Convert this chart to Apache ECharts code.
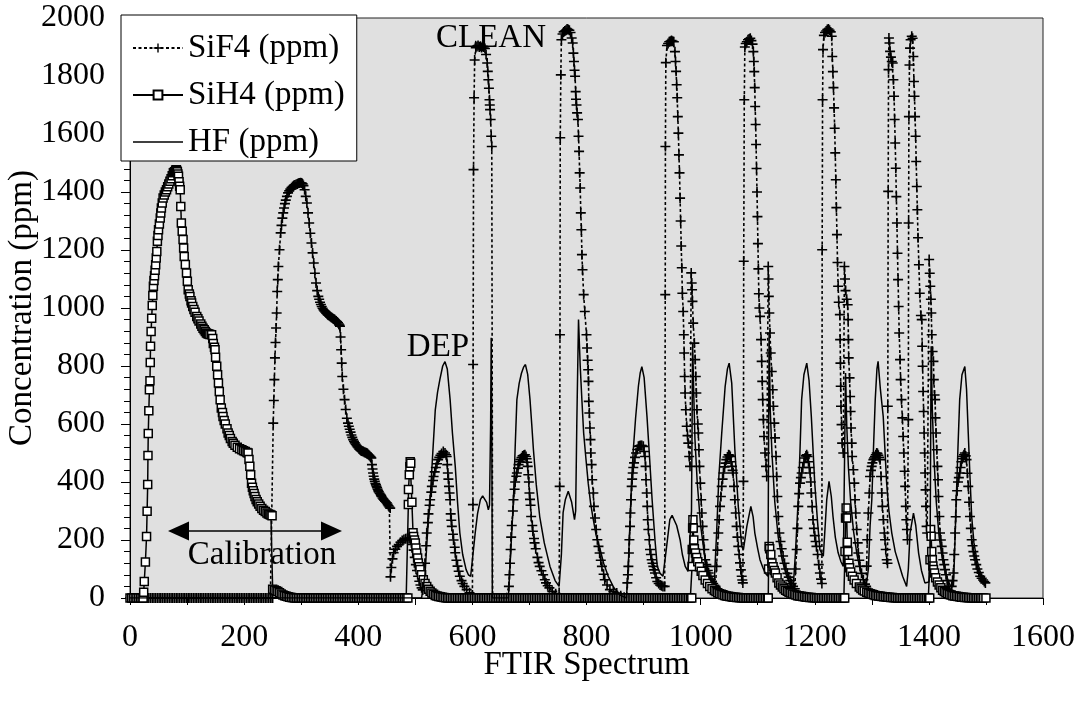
<!DOCTYPE html>
<html>
<head>
<meta charset="utf-8">
<script src="https://cdn.jsdelivr.net/npm/echarts/dist/echarts.min.js"></script>
<style>
html,body{margin:0;padding:0;background:#fff;}
#chart{width:1084px;height:708px;}
</style>
</head>
<body>
<div id="chart"></div>
<script>
// ---- tick labels / names ----
const xTicks = [0,200,400,600,800,1000,1200,1400,1600];
const yTicks = [0,200,400,600,800,1000,1200,1400,1600,1800,2000];
const seriesNames = ['SiF4 (ppm)','SiH4 (ppm)','HF (ppm)'];

// ---- SiF4 (ppm): [FTIR spectrum, ppm] ----
const sif4 = [
[0,0],[3,0],[6,0],[9,0],[12,0],[15,0],[18,0],[21,0],[24,0],[27,0],[30,0],[33,0],[36,0],[39,0],[42,0],[45,0],[48,0],[51,0],[54,0],[57,0],[60,0],[63,0],[66,0],[69,0],[72,0],[75,0],[78,0],[81,0],[84,0],[87,0],[90,0],[93,0],[96,0],[99,0],[102,0],[105,0],[108,0],[111,0],[114,0],[117,0],[120,0],[123,0],[126,0],[129,0],[132,0],[135,0],[138,0],[141,0],[144,0],[147,0],[150,0],[153,0],[156,0],[159,0],[162,0],[165,0],[168,0],[171,0],[174,0],[177,0],[180,0],[183,0],[186,0],[189,0],[192,0],[195,0],[198,0],[201,0],[204,0],[207,0],[210,0],[213,0],[216,0],[219,0],[222,0],[225,0],[228,0],[231,0],[234,0],[237,0],[240,0],[243,0],[246,0],[249,0],[250,0],
[251,603],[252,681],[253,753],[254,828],[255,881],[256,931],[257,983],[258,1057],[259,1098],[260,1143],[262,1201],[264,1259],[265.5,1285],[267,1310],[268.5,1328],[270,1345],[271.5,1360],[273,1372],[275,1385],[277,1397],[279,1404],[281,1410],[283,1415],[285,1419],[287,1422],[289,1424],[291,1426],[293,1428],[295,1430],[297,1431],[299,1432],[301,1431],[302.5,1428],[304,1422],[306,1408],[308,1385],[310,1362],[312,1328],[314,1293],[316,1258],[318,1224],[320,1190],[322,1155],[324,1120],[326,1086],[328,1060],[330,1040],[331.5,1030],[333,1020],[334.5,1012],[336,1005],[337.5,999],[339,994],[340.5,990],[342,986],[343.5,983],[345,980],[346.5,977],[348,975],[349.5,973],[351,971],[352.5,968],[354,966],[355.5,964],[357,962],[358.5,960],[360,957],[361.5,955],[363,952],[364.5,949],[366,945],[367,941],[368,937],[369,900],[370,856],[371,810],[372,764],[374,720],[376,684],[378,650],[380,620],[382,603],[383.5,592],[385,582],[386.5,572],[388,562],[389.5,554],[391,546],[392.5,540],[394,535],[395.5,530],[397,526],[398.5,522],[400,518],[401.5,514],[403,511],[404.5,509],[406,507],[407.5,506],[409,505],[410.5,503],[412,502],[413.5,501],[415,500],[416.5,497],[418,494],[419.5,491],[421,488],[422,485],[423,483],[424,460],[425,445],[426,431],[427,420],[428,410],[429,402],[430,395],[431,390],[432,385],[433,380],[434,375],[435,370],[436,366],[437.5,361],[439,357],[440,353],[441,350],[442.5,345],[444,341],[445.5,337],[447,334],[448.5,331],[450,328],[451.5,323],[453,318],[454.5,314],[456,310],
[456.5,73],[458,105],[460,135],[462,156],[465,168],[468,178],[471,184],[474,192],[477,198],[480,202],[483,204],[486,205],[489,206],[491,207],[493,200],[495,185],[497,165],[499,140],[501,115],[503,95],[505,75],[507,58],[509,45],[511,35],[513,28],
[515,60],[517,120],[519,180],[520,224],[522,260],[523,290],[525,320],[526,339],[528,365],[529,385],[531,405],[532,419],[534,435],[536,450],[538,463],[540,477],[542,485],[544,492],[546,498],[549,505],[552,500],[554,494],[555,488],[556,460],[557,431],[558,410],[559,385],[560,362],[561,339],[562,290],[563,268],[564,247],[566,220],[567,200],[569,175],[570,156],[572,130],[574,110],[576,92],[578,75],[581,60],[583,50],[586,40],[590,29],[595,18],[600,10],
[601,322],[601.3,805],[602,1477],[603,1725],[604,1855],[606,1898],[608,1902],[610,1905],[612,1900],[614,1903],[616,1898],[618,1902],[620,1900],[622,1895],[624,1874],[626,1845],[627,1816],[628,1787],[629,1758],[630,1718],[630.5,1700],[631,1684],[632,1650],[633,1592],[634,1557],[635.5,0],
[637,0],[640,0],[643,0],[646,0],[649,0],[652,0],[655,0],[658,0],[661,0],
[664,40],[665,80],[666,120],[667,167],[668,210],[669,250],[671,300],[672,339],[674,375],[675,400],[677,420],[678,431],[680,448],[681,460],[683,470],[684,477],[686,484],[688,490],[690,492],[692,494],[694,488],[695,480],[696,468],[697,454],[698,425],[699,400],[700,362],[701,340],[702,320],[703,281],[705,250],[706,230],[708,205],[709,190],[711,170],[714,140],[716,122],[718,109],[721,94],[724,80],[727,63],[729,52],[732,42],[735,35],[740,23],[746,15],[752,10],
[753,385],[753.5,908],[754,1587],[755,1804],[756,1925],[758,1945],[760,1952],[762,1955],[764,1958],[766,1962],[768,1960],[770,1958],[772,1950],[774,1931],[775.8,1914],[777,1879],[778,1850],[779,1820],[780,1799],[781,1746],[781.6,1720],[782.5,1700],[783.5,1673],[785,1650],[786,1592],[787,1540],[788,1466],[789,1414],[790,1328],[791,1270],[792,1184],[793,1132],[795,1046],[797,988],[800,908],[801,862],[802,820],[803,787],[803.5,747],[804,678],[805,638],[806,586],[807,546],[807.5,500],[809,460],[810,408],[812,362],[813,316],[815,276],[817,236],[819,201],[821,178],[823,155],[825,130],[827,109],[830,82],[832,63],[836,45],[841,29],[847,22],[853,17],[860,8],[866,3],[870,0],
[871.6,52],[872.5,80],[873.4,109],[874.3,155],[875.2,201],[876.3,247],[877,293],[878,339],[879.2,385],[880,410],[881,431],[882,450],[883.3,466],[885,485],[886.8,500],[889,512],[890.9,523],[893,525],[895,526],[897,526],[899.6,523],[901,505],[902.6,488],[903.5,454],[904.3,408],[905.5,362],[906.5,316],[907.3,270],[908.4,236],[910.1,201],[911.3,167],[912.8,150],[914.2,132],[915.6,120],[917.1,109],[918.5,97],[920,86],[922,70],[924.1,57],[926.5,50],[929,45],[931.5,42],[934,40],[937,40],
[938,1046],[938.3,1557],[939,1846],[941,1905],[943,1912],[945,1918],[947,1920],[949,1922],[951,1920],[953,1918],[955,1884],[956,1850],[957,1816],[958,1770],[959,1725],[960,1660],[961,1603],[962,1528],[963,1466],[964,1379],[965,1300],[966,1214],[967,1139],[968,1051],[969.5,988],[970.5,908],[971.2,845],[972,764],[972.8,707],[974,649],[975.6,592],[977,560],[978.4,534],[980,488],[981.4,454],
[983.5,1121],[984.3,1086],[985,1063],[985.7,1023],[987,948],[989,879],[990.5,822],[991.5,764],[992.5,707],[993.5,649],[995,600],[996,569],[997,511],[998,454],[999.5,396],[1001,339],[1002,293],[1003.5,247],[1005,201],[1006.5,167],[1008,132],[1010,115],[1011,109],[1012.5,95],[1014,86],[1016,75],[1018,65],[1020,57],[1022,50],[1024,44],[1026,40],
[1028,109],[1029.5,165],[1031,224],[1032.5,270],[1034,316],[1035.5,350],[1037,385],[1038.5,410],[1040,431],[1042,452],[1043.5,465],[1045,477],[1047,486],[1049,494],[1050.5,492],[1052,488],[1053.5,470],[1055,454],[1056,440],[1057,431],[1058.5,385],[1060,339],[1061.5,293],[1063,247],[1064.5,210],[1066,178],[1067.5,150],[1069,121],[1070.5,97],[1072,75],[1073,62],[1074,52],
[1075,402],[1075.5,1161],[1076.5,1718],[1077.5,1900],[1079,1912],[1081,1918],[1083,1925],[1085,1928],[1087,1930],[1089,1922],[1091,1910],[1092.4,1884],[1093.2,1850],[1094,1815],[1094.8,1760],[1095.6,1695],[1096.4,1633],[1097.2,1564],[1098,1481],[1098.8,1400],[1099.6,1315],[1100.4,1222],[1101.2,1135],[1102,1049],[1103,1000],[1104.1,971],[1105.9,891],[1107,816],[1108,747],[1108.8,684],[1110,615],[1111.1,557],[1112.9,500],[1114.6,454],[1115.8,419],
[1118.5,1143],[1119,1100],[1119.5,1040],[1120.4,983],[1121.6,914],[1122.8,845],[1124.6,781],[1126.3,718],[1127.5,661],[1129.2,603],[1130.4,552],[1132.2,488],[1133.3,419],[1134.5,350],[1136.2,281],[1138,224],[1140,195],[1142,170],[1144.5,145],[1147,120],[1149.5,100],[1152,85],[1154.5,72],[1157,60],[1159.5,50],[1162,40],[1165,32],
[1166.5,100],[1168.3,167],[1169.7,240],[1171.2,316],[1172.7,360],[1174.2,396],[1175.7,415],[1177.1,431],[1179,450],[1181,467],[1183,483],[1184.5,490],[1185.9,494],[1187.5,488],[1189,470],[1190.5,450],[1192,431],[1193,400],[1194,362],[1195.5,315],[1197,270],[1198.5,240],[1200,215],[1201.5,195],[1203,178],[1205,150],[1207,115],[1209,86],[1211,65],[1212.5,50],
[1213,1201],[1213.7,1718],[1214.5,1891],[1216,1940],[1218,1950],[1220,1955],[1222,1960],[1224,1962],[1226,1958],[1228,1952],[1229.7,1937],[1230.7,1867],[1231.8,1815],[1232.8,1760],[1233.9,1690],[1234.9,1620],[1235.9,1535],[1236.9,1442],[1237.9,1346],[1238.9,1253],[1239.9,1157],[1241,1075],[1242,1020],[1244,977],[1244.5,891],[1245,810],[1245.5,730],[1246,661],[1247,598],[1248,534],[1250,500],
[1252,1143],[1253,1100],[1254,1060],[1256,1030],[1257.7,1011],[1258.5,960],[1259,891],[1259.5,828],[1261,759],[1262,695],[1262.8,643],[1263.6,586],[1264.8,534],[1265.5,488],[1267.7,442],[1269.4,396],[1270.6,339],[1271.8,293],[1273.5,236],[1275.3,190],[1276.4,155],[1278,130],[1279.4,109],[1282,85],[1285.2,63],[1288,48],[1290,40],
[1291,110],[1292,201],[1293.9,293],[1295.7,362],[1296.9,419],[1298.5,440],[1299.8,454],[1301,466],[1302.7,477],[1304,483],[1305.6,488],[1307,494],[1308.6,500],[1310,498],[1311.5,492],[1313,485],[1314.4,477],[1316.2,419],[1317.4,362],[1318.5,316],[1320.3,270],[1322,224],[1323.2,201],[1324.4,167],[1326.1,132],[1327.5,120],
[1328,661],[1328.7,1402],[1329.3,1822],[1330,1931],[1331,1914],[1332,1885],[1333.5,1865],[1335,1850],[1336.6,1845],[1337.8,1787],[1339,1730],[1340,1650],[1341,1569],[1342,1482],[1343,1384],[1344,1293],[1345,1189],[1346,1098],[1347,1005],[1348,914],[1349.5,822],[1350.5,753],[1352,684],[1353.5,621],[1355,557],[1356,500],[1357.5,437],[1358.5,385],[1359.5,316],[1360.5,270],[1361.5,236],[1362.5,201],
[1364,615],[1364.5,1293],[1365,1660],[1366,1838],[1367,1896],[1368,1925],[1370,1937],[1371.5,1930],[1372.8,1867],[1373.8,1781],[1374.8,1730],[1375.8,1660],[1376.8,1592],[1377.8,1505],[1378.8,1419],[1379.8,1339],[1381,1242],[1382.5,1149],[1384,1051],[1386,974],[1387.5,960],[1388.3,868],[1389,799],[1390,712],[1390.8,643],[1391.7,569],[1392.6,500],[1393.4,431],[1394.2,373],[1395,316],[1396,247],[1397,224],
[1400.5,1167],[1401.5,1120],[1402.5,1075],[1403.5,1030],[1404.3,983],[1405,908],[1406.5,850],[1408,816],[1408.6,753],[1410,700],[1411,684],[1411.6,621],[1412.6,569],[1413.8,511],[1415,454],[1416,408],[1416.8,350],[1418.4,281],[1419.5,224],[1421,200],[1422.5,178],[1424,155],[1425.4,132],[1427,115],[1428.3,98],[1430,80],[1432,60],[1434,40],[1436,25],[1438,15],
[1440,40],[1441.5,60],[1443,86],[1444.5,150],[1446,224],[1447,280],[1448,339],[1449.5,370],[1451,400],[1452.5,415],[1454,431],[1455.5,450],[1457,470],[1458.5,480],[1460,488],[1461.5,494],[1463,500],[1464.5,490],[1466,477],[1467.5,430],[1469,385],[1470.5,330],[1472,281],[1473.5,240],[1475,201],[1476.5,180],[1478,160],[1479.5,145],[1481,132],[1483,115],[1485,100],[1487.5,88],[1490,75],[1492.5,68],[1495,62],[1497,57],[1499,52]
];

// ---- SiH4 (ppm) ----
const sih4 = [
[0,0],[3,0],[6,0],[9,0],[12,0],[15,0],[18,0],[21,0],[23,0],
[24,20],[25,57],[27,124],[29,212],[30,299],[31,391],[31.5,491],[32,567],[33,646],[34,718],[35,749],[35.5,812],[36,868],[37,919],[38,965],[39,1009],[40,1043],[41,1075],[42,1095],[43,1111],[44,1130],[45,1149],[46,1172],[47,1195],[48,1230],[49,1250],[50,1270],[51.5,1290],[53,1310],[54,1328],[55,1345],[56.5,1362],[58,1379],[60,1390],[62,1400],[64,1408],[66,1418],[68,1428],[70,1437],[72,1446],[74,1456],[76,1466],[78,1470],[80,1475],[81,1477],[82,1474],[83,1470],[84,1462],[85,1454],[86,1435],[87,1420],[88,1408],[89,1350],[90,1293],[91.5,1265],[93,1236],[94,1207],[95,1178],[97,1150],[99,1121],[100.5,1092],[102,1063],[104,1048],[105,1040],[107,1025],[108,1017],[110,1005],[112,995],[114,985],[117,971],[119,963],[121,955],[124,945],[126,937],[128,930],[130,925],[132,919],[134,914],[136,911],[138,910],[140,909],[143,908],[145,895],[146,878],[148,865],[149,856],[150,830],[152,799],[153.5,770],[155,741],[156.5,712],[158,684],[160,655],[162,640],[163,626],[165,612],[167,600],[170,584],[172,569],[174,560],[176,550],[179,540],[181,534],[184,527],[188,520],[192,515],[196,511],[199,508],[202,505],[205,502],[207,500],[208.5,478],[210,454],[211.5,425],[213,396],[214.5,382],[216,370],[217.5,360],[219,350],[221,340],[223,332],[225.5,324],[228,316],[231,309],[234,303],[237,298],[240,293],[242.5,290],[245,288],[247,286],[249,284],
[250,30],[253,28],[256,25],[259,22],[262,18],[265,14],[268,10],[271,8],[274,6],[277,4],[280,3],[283,2],[286,1],
[289,0],[292,0],[295,0],[298,0],[301,0],[304,0],[307,0],[310,0],[313,0],[316,0],[319,0],[322,0],[325,0],[328,0],[331,0],[334,0],[337,0],[340,0],[343,0],[346,0],[349,0],[352,0],[355,0],[358,0],[361,0],[364,0],[367,0],[370,0],[373,0],[376,0],[379,0],[382,0],[385,0],[388,0],[391,0],[394,0],[397,0],[400,0],[403,0],[406,0],[409,0],[412,0],[415,0],[418,0],[421,0],[424,0],[427,0],[430,0],[433,0],[436,0],[439,0],[442,0],[445,0],[448,0],[451,0],[454,0],[457,0],[460,0],[463,0],[466,0],[469,0],[472,0],[475,0],[478,0],[481,0],[484,0],
[487,0],[487.8,322],[488,374],[489.5,425],[490.5,453],[491,470],[492,465],[494,330],[496,225],[497,212],[498.5,200],[500,190],[501,172],[502.4,155],[504,138],[505.3,121],[507,108],[508.2,98],[511,80],[514,63],[517,50],[520,40],[523,30],[526,23],[529,17],[532,13],[535,9],[538,7],[541,5],[544,4],[547,3],[550,2],[553,1],
[556,0],[559,0],[562,0],[565,0],[568,0],[571,0],[574,0],[577,0],[580,0],[583,0],[586,0],[589,0],[592,0],[595,0],[598,0],[601,0],[604,0],[607,0],[610,0],[613,0],[616,0],[619,0],[622,0],[625,0],[628,0],[631,0],[634,0],[637,0],[640,0],[643,0],[646,0],[649,0],[652,0],[655,0],[658,0],[661,0],[664,0],[667,0],[670,0],[673,0],[676,0],[679,0],[682,0],[685,0],[688,0],[691,0],[694,0],[697,0],[700,0],[703,0],[706,0],[709,0],[712,0],[715,0],[718,0],[721,0],[724,0],[727,0],[730,0],[733,0],[736,0],[739,0],[742,0],[745,0],[748,0],[751,0],[754,0],[757,0],[760,0],[763,0],[766,0],[769,0],[772,0],[775,0],[778,0],[781,0],[784,0],[787,0],[790,0],[793,0],[796,0],[799,0],[802,0],[805,0],[808,0],[811,0],[814,0],[817,0],[820,0],[823,0],[826,0],[829,0],[832,0],[835,0],[838,0],[841,0],[844,0],[847,0],[850,0],[853,0],[856,0],[859,0],[862,0],[865,0],[868,0],[871,0],[874,0],[877,0],[880,0],[883,0],[886,0],[889,0],[892,0],[895,0],[898,0],[901,0],[904,0],[907,0],[910,0],[913,0],[916,0],[919,0],[922,0],[925,0],[928,0],[931,0],[934,0],[937,0],[940,0],[943,0],[946,0],[949,0],[952,0],[955,0],[958,0],[961,0],[964,0],[967,0],[970,0],[973,0],[976,0],[979,0],[982,0],
[984.5,0],[985,109],[985.3,167],[986,241],[986.5,270],[987,241],[988,200],[989,170],[991,155],[993,140],[995,125],[998,108],[1001,92],[1004,78],[1008,62],[1012,50],[1016,40],[1020,32],[1024,26],[1027,22],[1030,18],[1033,15],[1036,13],[1039,11],[1042,9],[1045,7],[1048,6],[1051,5],[1054,4],[1057,3],[1060,3],[1063,2],[1066,2],[1069,1],[1072,1],
[1075,0],[1078,0],[1081,0],[1084,0],[1087,0],[1090,0],[1093,0],[1096,0],[1099,0],[1102,0],[1105,0],[1108,0],[1111,0],[1114,0],[1117,0],
[1118.5,0],[1119,100],[1120,178],[1121,170],[1123,150],[1125,121],[1127,108],[1129,95],[1131,86],[1134,70],[1137,52],[1140,45],[1143,38],[1146,32],[1149,27],[1152,23],[1155,20],[1158,17],[1161,14],[1164,12],[1167,10],[1170,8],[1173,7],[1176,6],[1179,5],[1182,4],[1185,3],[1188,3],[1191,2],[1194,2],[1197,1],[1200,1],
[1203,0],[1206,0],[1209,0],[1212,0],[1215,0],[1218,0],[1221,0],[1224,0],[1227,0],[1230,0],[1233,0],[1236,0],[1239,0],[1242,0],[1245,0],[1248,0],[1251,0],
[1252.5,0],[1253,160],[1254,276],[1255,310],[1256,276],[1257,192],[1258,160],[1260,120],[1261,104],[1263,90],[1266,75],[1269,62],[1273,50],[1278,38],[1281,33],[1284,28],[1287,24],[1291,20],[1294,17],[1297,15],[1300,13],[1303,11],[1306,9],[1309,8],[1312,7],[1315,6],[1318,5],[1321,4],[1324,4],[1327,3],[1330,3],[1333,2],[1336,2],[1339,1],[1342,1],
[1345,0],[1348,0],[1351,0],[1354,0],[1357,0],[1360,0],[1363,0],[1366,0],[1369,0],[1372,0],[1375,0],[1378,0],[1381,0],[1384,0],[1387,0],[1390,0],[1393,0],[1396,0],[1399,0],
[1401.5,0],[1402,132],[1403,236],[1404,213],[1405,160],[1406,132],[1407,110],[1408,98],[1410,86],[1412,70],[1415,55],[1418,45],[1421,35],[1424,27],[1427,22],[1430,18],[1433,15],[1436,12],[1439,10],[1442,8],[1445,7],[1448,6],[1451,5],[1454,4],[1457,3],[1460,3],[1463,2],[1466,2],[1469,1],[1472,1],[1475,1],[1478,0],[1481,0],[1484,0],[1487,0],[1490,0],[1493,0],[1496,0],[1500,0]
];

// ---- HF (ppm) ----
const hf = [
[0,0],[505,0],[511,0],[514,5],[517,80],[520,180],[523,270],[526,339],[530,480],[535,649],[539,710],[543,753],[548,800],[552,815],[556,790],[561,684],[565,570],[570,454],[574,330],[578,225],[583,150],[589,98],[593,80],[597,75],[601,150],[605,225],[609,290],[614,339],[618,352],[621,356],[625,330],[628,304],[630,320],[632,600],[633,897],[634,600],[635,0],
[663,0],[667,150],[672,339],[675,520],[678,684],[682,740],[686,775],[690,797],[693,805],[697,770],[701,684],[704,600],[707,511],[712,390],[718,281],[726,190],[736,109],[745,60],[752,40],[756,150],[759,294],[763,340],[768,368],[774,330],[779,270],[781,300],[783,600],[786,960],[789,799],[792,680],[795,569],[799,480],[803,396],[807,330],[811,281],[817,215],[824,167],[830,120],[838,75],[848,35],[859,10],[870,0],
[873,100],[876,250],[879,400],[882,511],[886,620],[891,731],[894,775],[897,798],[901,760],[906,626],[910,500],[915,339],[920,200],[924,109],[929,85],[934,75],[940,170],[946,270],[950,285],[953,287],[958,250],[964,201],[968,150],[973,109],[978,92],[981,86],[984,300],[986,880],[988,700],[990,550],[994,400],[1000,250],[1008,130],[1015,70],[1020,50],
[1024,60],[1028,224],[1032,420],[1037,569],[1043,730],[1047,790],[1050,810],[1054.5,741],[1060,511],[1066,316],[1072,178],[1075,167],[1081,247],[1088,316],[1092,280],[1095,224],[1100,170],[1104,132],[1109,105],[1113,86],[1118,75],[1120,914],[1122,650],[1125,500],[1130,330],[1136,210],[1143,130],[1150,80],[1158,40],[1162,30],
[1166,150],[1171,339],[1174,500],[1177,684],[1181,770],[1186,810],[1190,750],[1194,626],[1200,396],[1205,260],[1209,167],[1215,144],[1218,240],[1221,339],[1225,402],[1229,350],[1232,281],[1236,210],[1241,156],[1246,125],[1250,109],[1252,105],[1254,776],[1256,600],[1259,450],[1263,330],[1268,230],[1274,150],[1280,95],[1286,60],[1290,40],
[1294,100],[1297,250],[1300,339],[1303,520],[1306,684],[1309,790],[1311,816],[1315,720],[1320,626],[1326,396],[1330,300],[1335,224],[1341,160],[1347,121],[1354,75],[1361,40],[1364,100],[1367,224],[1373,293],[1377,250],[1382,155],[1387,95],[1393,52],[1400,55],[1402,120],[1404,868],[1406,650],[1409,480],[1413,330],[1418,210],[1424,130],[1430,80],[1437,45],[1443,40],
[1445,150],[1448,339],[1451,520],[1454,684],[1458,770],[1463,798],[1466,720],[1469,569],[1472,420],[1475,281],[1479,190],[1484,132],[1490,90],[1495,65],[1499,52]
];

// ---- annotations ----
const notes = [
  {text:'CLEAN', x:491, y:38},
  {text:'DEP', x:438, y:347},
  {text:'Calibration', x:262, y:555}
];

const FONT = '"Liberation Serif","Times New Roman",serif';
const PLUS = 'path://M0,42H100V58H0Z M42,0H58V100H42Z';
const LINE_ICON = 'path://M0,0H100V3H0Z';

const chart = echarts.init(document.getElementById('chart'), null, {renderer:'canvas'});

const graphics = notes.map(n => ({
  type:'text', x:n.x, y:n.y, z:100,
  style:{text:n.text, x:0, y:0, fill:'#000', font:'33px ' + FONT,
         textAlign:'center', textVerticalAlign:'middle', align:'center', verticalAlign:'middle'}
}));
graphics.push({type:'line', z:100, shape:{x1:186, y1:531, x2:324, y2:531}, style:{stroke:'#000', lineWidth:1.5}});
graphics.push({type:'polygon', z:100, shape:{points:[[168,531],[189,521.5],[189,540.5]]}, style:{fill:'#000'}});
graphics.push({type:'polygon', z:100, shape:{points:[[342,531],[321,521.5],[321,540.5]]}, style:{fill:'#000'}});

chart.setOption({
  animation:false,
  backgroundColor:'#ffffff',
  grid:{left:130, right:41, top:18, bottom:110, outerBoundsMode:'none', containLabel:false,
        show:true, backgroundColor:'#e0e0e0', borderColor:'#222', borderWidth:1},
  legend:{
    data:[{name:seriesNames[0]},{name:seriesNames[1]},{name:seriesNames[2], icon:LINE_ICON}],
    orient:'vertical', left:121, top:15,
    backgroundColor:'#fff', borderColor:'#000', borderWidth:1,
    padding:[14,12,0,11], itemWidth:50, itemHeight:11, itemGap:9,
    textStyle:{fontFamily:FONT, fontSize:33, color:'#000', lineHeight:38}
  },
  xAxis:{
    type:'value', min:0, max:1600, interval:200,
    axisLine:{show:true, onZero:false, lineStyle:{color:'#000', width:1}},
    axisTick:{show:true, length:7, lineStyle:{color:'#000'}},
    minorTick:{show:true, splitNumber:2, length:7, lineStyle:{color:'#000'}},
    splitLine:{show:false},
    axisLabel:{fontFamily:FONT, fontSize:32, color:'#000', margin:24,
      formatter:v => xTicks.indexOf(v) >= 0 ? String(v) : ''},
    name:'FTIR Spectrum', nameLocation:'middle', nameGap:51, nameMoveOverlap:false,
    nameTextStyle:{fontFamily:FONT, fontSize:33, color:'#000'}
  },
  yAxis:{
    type:'value', min:0, max:2000, interval:200,
    axisLine:{show:true, lineStyle:{color:'#000', width:1}},
    axisTick:{show:true, length:9, lineStyle:{color:'#000'}},
    minorTick:{show:true, splitNumber:5, length:6, lineStyle:{color:'#000'}},
    splitLine:{show:false},
    axisLabel:{fontFamily:FONT, fontSize:32, color:'#000', margin:25,
      formatter:v => yTicks.indexOf(v) >= 0 ? String(v) : ''},
    name:'Concentration (ppm)', nameLocation:'middle', nameGap:91, nameMoveOverlap:false,
    nameTextStyle:{fontFamily:FONT, fontSize:33, color:'#000'}
  },
  series:[
    {name:seriesNames[0], type:'line', data:sif4, symbol:PLUS, symbolSize:10, showAllSymbol:true,
     itemStyle:{color:'#000', borderWidth:0},
     lineStyle:{color:'#000', width:1.6, type:[3,2.5]}, z:2},
    {name:seriesNames[1], type:'line', data:sih4, symbol:'rect', symbolSize:8, showAllSymbol:true,
     itemStyle:{color:'#fff', borderColor:'#000', borderWidth:1.5},
     lineStyle:{color:'#000', width:1.5}, z:3},
    {name:seriesNames[2], type:'line', data:hf, symbol:'none', showSymbol:false,
     itemStyle:{color:'#000'},
     lineStyle:{color:'#000', width:1.5}, z:4}
  ],
  graphic:graphics
});
</script>
</body>
</html>
